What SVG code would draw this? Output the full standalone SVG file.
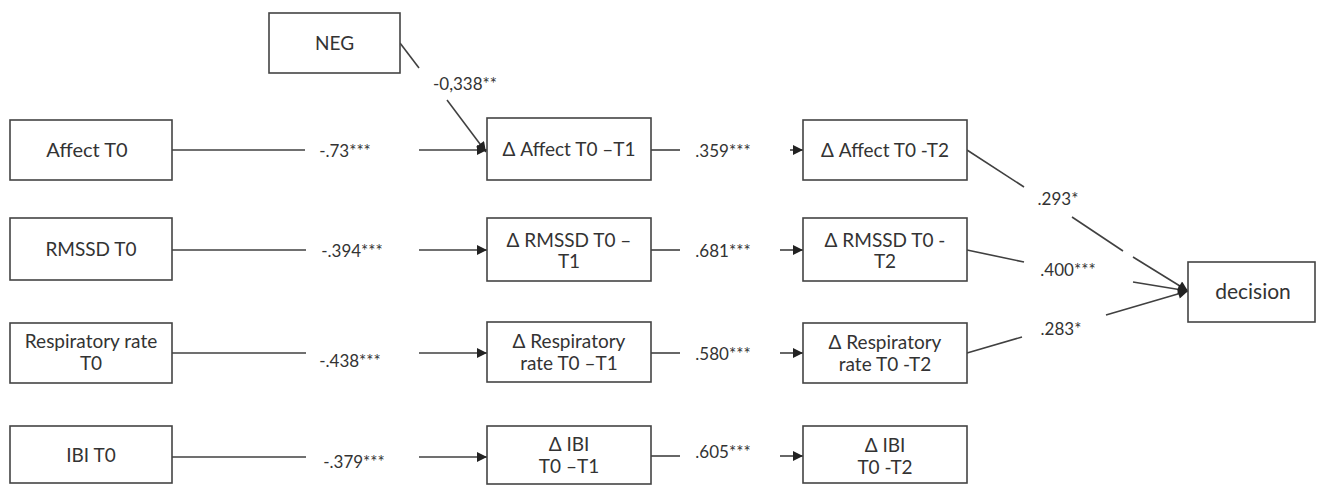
<svg xmlns="http://www.w3.org/2000/svg" width="1319" height="486" viewBox="0 0 1319 486">
<style>
.box{fill:#fff;stroke:#444;stroke-width:1.6}
.nt{font-family:Lato,"Liberation Sans",sans-serif;font-size:19px;fill:#333;text-anchor:middle}
.lb{font-family:Lato,"Liberation Sans",sans-serif;font-size:17px;fill:#333;text-anchor:middle}
.ln{stroke:#404040;stroke-width:1.6;fill:none}
.ar{stroke:#404040;stroke-width:1.6;fill:none;marker-end:url(#ah)}
</style>
<defs>
<marker id="ah" viewBox="0 0 10 10" refX="10" refY="5" markerWidth="12" markerHeight="10" markerUnits="userSpaceOnUse" orient="auto">
<path d="M0,0 L10,5 L0,10 Z" fill="#222"/>
</marker>
</defs>
<rect width="1319" height="486" fill="#fff"/>
<g id="connectors">
<polyline class="ln" points="400,43 419,68"/>
<line class="ar" x1="447" y1="100" x2="486" y2="152"/>
<line class="ln" x1="172" y1="150" x2="305" y2="150"/>
<line class="ar" x1="419" y1="150" x2="487" y2="150"/>
<line class="ln" x1="172" y1="250" x2="306" y2="250"/>
<line class="ar" x1="419" y1="250" x2="487" y2="250"/>
<line class="ln" x1="172" y1="353" x2="306" y2="353"/>
<line class="ar" x1="419" y1="353" x2="487" y2="353"/>
<line class="ln" x1="172" y1="457" x2="306" y2="457"/>
<line class="ar" x1="419" y1="457" x2="487" y2="457"/>
<line class="ln" x1="651" y1="150" x2="680" y2="150"/>
<line class="ar" x1="790" y1="150" x2="803" y2="150"/>
<line class="ln" x1="651" y1="250" x2="680" y2="250"/>
<line class="ar" x1="780" y1="250" x2="803" y2="250"/>
<line class="ln" x1="651" y1="353" x2="680" y2="353"/>
<line class="ar" x1="780" y1="353" x2="803" y2="353"/>
<line class="ln" x1="651" y1="456" x2="680" y2="456"/>
<line class="ar" x1="780" y1="456" x2="803" y2="456"/>
<line class="ln" x1="967" y1="150" x2="1024" y2="187"/>
<line class="ln" x1="1072" y1="217" x2="1123" y2="251"/>
<line class="ar" x1="1133" y1="257" x2="1188" y2="291"/>
<line class="ln" x1="967" y1="250" x2="1024" y2="262"/>
<line class="ar" x1="1133" y1="282" x2="1188" y2="291"/>
<line class="ln" x1="967" y1="353" x2="1022" y2="337"/>
<line class="ar" x1="1106" y1="315" x2="1188" y2="291"/>
<text class="lb" x="465" y="90">-0,338**</text>
<text class="lb" x="345" y="157">-.73***</text>
<text class="lb" x="352" y="257">-.394***</text>
<text class="lb" x="350" y="367">-.438***</text>
<text class="lb" x="354" y="468">-.379***</text>
<text class="lb" x="723" y="157">.359***</text>
<text class="lb" x="723" y="257">.681***</text>
<text class="lb" x="723" y="360">.580***</text>
<text class="lb" x="723" y="458">.605***</text>
<text class="lb" x="1058" y="205">.293*</text>
<text class="lb" x="1068" y="276">.400***</text>
<text class="lb" x="1061" y="335">.283*</text>
</g>
<g id="neg"><rect class="box" x="269" y="13" width="131" height="60"/><text class="nt" x="334.5" y="50">NEG</text></g>
<g id="affect-t0"><rect class="box" x="10" y="120" width="162" height="60"/><text class="nt" x="87" y="157" style="font-size:20px">Affect T0</text></g>
<g id="rmssd-t0"><rect class="box" x="10" y="218" width="162" height="62"/><text class="nt" x="91" y="256">RMSSD T0</text></g>
<g id="resp-t0"><rect class="box" x="10" y="323" width="162" height="60"/><text class="nt" x="91" y="348">Respiratory rate</text><text class="nt" x="91" y="370">T0</text></g>
<g id="ibi-t0"><rect class="box" x="10" y="426" width="162" height="57"/><text class="nt" x="91" y="462">IBI T0</text></g>
<g id="d-affect-t1"><rect class="box" x="487" y="118" width="164" height="62"/><text class="nt" x="569" y="156">Δ Affect T0 –T1</text></g>
<g id="d-rmssd-t1"><rect class="box" x="487" y="218" width="164" height="63"/><text class="nt" x="569" y="247">Δ RMSSD T0 –</text><text class="nt" x="569" y="268">T1</text></g>
<g id="d-resp-t1"><rect class="box" x="487" y="322" width="164" height="60"/><text class="nt" x="569" y="348">Δ Respiratory</text><text class="nt" x="569" y="370">rate T0 –T1</text></g>
<g id="d-ibi-t1"><rect class="box" x="487" y="426" width="164" height="58"/><text class="nt" x="569" y="451">Δ IBI</text><text class="nt" x="569" y="473">T0 –T1</text></g>
<g id="d-affect-t2"><rect class="box" x="803" y="120" width="164" height="60"/><text class="nt" x="885" y="157">Δ Affect T0 -T2</text></g>
<g id="d-rmssd-t2"><rect class="box" x="803" y="218" width="164" height="63"/><text class="nt" x="885" y="247">Δ RMSSD T0 -</text><text class="nt" x="885" y="268">T2</text></g>
<g id="d-resp-t2"><rect class="box" x="803" y="323" width="164" height="60"/><text class="nt" x="885" y="349">Δ Respiratory</text><text class="nt" x="885" y="371">rate T0 -T2</text></g>
<g id="d-ibi-t2"><rect class="box" x="803" y="426" width="164" height="57"/><text class="nt" x="885" y="452">Δ IBI</text><text class="nt" x="885" y="474">T0 -T2</text></g>
<g id="decision"><rect class="box" x="1188" y="262" width="127" height="60"/><text class="nt" x="1253" y="299" style="font-size:21px">decision</text></g>
</svg>
